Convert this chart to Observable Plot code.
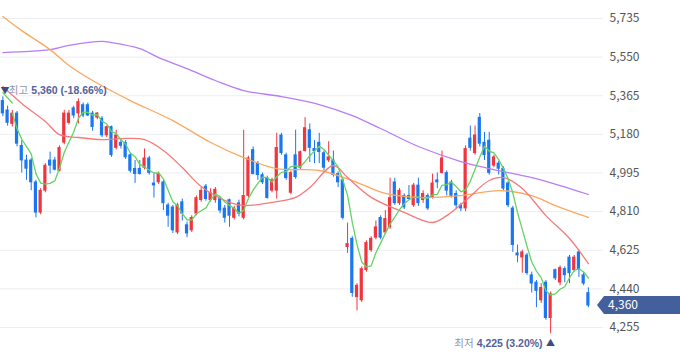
<!DOCTYPE html>
<html><head><meta charset="utf-8">
<script src="https://cdn.jsdelivr.net/npm/d3@7"></script>
<script src="https://cdn.jsdelivr.net/npm/@observablehq/plot@0.6"></script>
<style>
html,body{margin:0;padding:0;background:#fff;}
#chart{width:680px;height:358px;overflow:hidden;}
</style></head><body><div id="chart"></div>
<script>
// Daily candles (oldest → newest)
const opens = [5340,5295,5230,5280,5125,5055,5055,4950,4805,4910, 5055,5055,5005,5140,5235,5305,5280,5320,5320,5280,
 5260,5255,5175,5215,5115,5140,5140,5080,5015,5015, 5020,5065,4945,4950,4950,4840,4830,4710,4855,4745,
 4720,4800,4865,4930,4865,4865,4870,4825,4865,4780, 4850,4780,4885,5105,5040,4985,4970,4910,4910,5175,
 5080,4900,5080,5020,5100,5200,5110,5140,5090,5055, 5055,4990,4960,4640,4680,4400,4385,4530,4625,4685,
 4780,4710,4735,4950,4850,4885,4885,4840,4935,4865, 4885,4875,4960,4995,4995,4950,4895,4840,4825,5160,
 5090,5260,5140,5150,5030,5040,5015,4945,4825,4610, 4590,4600,4505,4470,4385,4470,4300,4530,4470,4535,
 4590,4530,4615,4505,4420];
const closes = [5280,5235,5280,5135,5055,5015,4950,4805,4910,5030, 5030,5010,5115,5280,5280,5270,5335,5270,5270,5215,
 5280,5175,5215,5080,5175,5125,5070,5005,4990,4990, 5065,4995,4935,4990,4850,4790,4720,4840,4800,4705,
 4780,4875,4910,4870,4900,4915,4815,4780,4790,4825, 4800,4885,5065,4990,4985,4950,4875,4960,5115,5090,
 4970,4995,4975,5095,5210,5115,5100,5095,5020,5070, 4985,4950,4780,4655,4420,4455,4535,4660,4680,4735,
 4685,4775,4875,4850,4910,4830,4870,4935,4850,4895, 4825,4945,4950,5065,4910,4885,4840,4825,5110,5115,
 5175,5135,5080,4995,5070,5015,4920,4840,4650,4600, 4615,4515,4465,4430,4445,4300,4415,4490,4540,4505,
 4515,4590,4530,4465,4360];
const highs = [5360,5315,5295,5290,5150,5080,5065,4960,4920,5040, 5095,5070,5125,5295,5295,5315,5350,5330,5330,5290,
 5285,5265,5220,5220,5200,5155,5150,5090,5055,5055, 5110,5075,4990,5000,4960,4850,4840,4850,4870,4760,
 4790,4885,4925,4940,4920,4925,4880,4840,4870,4835, 4865,5200,5075,5120,5050,4995,4980,4970,5185,5185,
 5090,5005,5200,5100,5260,5230,5150,5185,5100,5145, 5100,5000,4970,4755,4690,4465,4545,4670,4690,4765,
 4790,4815,4970,4970,4920,4895,4935,4945,4970,4910, 4895,4990,4995,5100,5005,4960,4910,4850,5125,5220,
 5220,5280,5190,5190,5080,5050,5025,4955,4835,4650, 4625,4610,4520,4480,4465,4480,4425,4535,4550,4545,
 4600,4600,4625,4520,4445];
const lows = [5265,5220,5215,5120,4995,4960,4910,4780,4795,4900, 4990,5005,5000,5130,5225,5255,5230,5260,5265,5195,
 5250,5165,5165,5070,5105,5110,5060,4995,4945,4985, 5010,4985,4875,4940,4815,4735,4705,4700,4765,4685,
 4710,4790,4855,4860,4855,4850,4800,4755,4735,4770, 4785,4770,4875,4985,4960,4940,4870,4900,4870,5080,
 4960,4890,4965,5010,5095,5045,5040,5040,5005,5045, 4975,4925,4770,4610,4400,4335,4375,4520,4615,4675,
 4675,4700,4725,4840,4840,4820,4865,4830,4835,4850, 4815,4870,4920,4990,4885,4875,4825,4810,4810,5100,
 5080,5120,5055,4985,5020,4985,4910,4830,4615,4565, 4515,4505,4420,4350,4370,4290,4225,4480,4455,4470,
 4465,4520,4495,4455,4350];

// Moving averages (candle index → value)
const ma5Idx = [0,2];
const ma5Val = [5380,5330];
const ma20Idx = [0,4,9,12,16,21,25,30,34,38,42,48,51,57,62,65,70,73,78,85,91,94,98,103,106,110,115,120,124];
const ma20Val = [5409,5328,5242,5179,5165,5155,5160,5155,5103,5021,4930,4854,4839,4854,4878,4925,5031,4973,4878,4806,4758,4791,4863,4959,4973,4921,4791,4681,4561];
const ma60Idx = [0,4,10,14,19,27,36,44,51,58,67,74,81,88,97,105,112,117,124];
const ma60Val = [5745,5677,5586,5510,5438,5342,5246,5141,5069,5016,5007,4959,4897,4878,4887,4911,4887,4839,4782];
const ma120Idx = [0,10,14,21,23,29,33,39,45,51,59,67,74,80,88,97,103,112,118,124];
const ma120Val = [5572,5586,5606,5625,5620,5591,5548,5495,5438,5390,5361,5323,5270,5208,5122,5050,5016,4973,4935,4892];

const yTicks = [4255,4440,4625,4810,4995,5180,5365,5550,5735];
const highText = ["최고", "5,360 (-18.66%)"];
const lowText = ["최저", "4,225 (3.20%)"];

const UP = "#f0353f", DOWN = "#1a77f2";
const data = opens.map((o, i) => ({i, o, c: closes[i], h: highs[i], l: lows[i]}));
const col = d => d.c >= d.o ? UP : DOWN;
const toLine = (idx, val) => idx.map((x, k) => ({i: x, v: val[k]}));
const hiI = highs.indexOf(d3.max(highs)), loI = lows.indexOf(d3.min(lows));
const hiPt = [{i: hiI, v: highs[hiI]}], loPt = [{i: loI, v: lows[loI]}];
const lastClose = closes[closes.length - 1];
const font = "'Noto Sans CJK KR','Noto Sans',sans-serif";
const numFont = "'Liberation Sans','Noto Sans CJK KR',sans-serif";

const chart = Plot.plot({
  width: 680, height: 358,
  marginLeft: 0, marginRight: 77, marginTop: 0, marginBottom: 0,
  style: {fontFamily: font, fontSize: "12px", background: "#fff", overflow: "visible"},
  x: {domain: [-0.5, 127.2], axis: null},
  y: {domain: [4106.5, 5821.2], axis: null},
  color: {type: "identity"},
  marks: [
    Plot.gridY(yTicks, {stroke: "#eceef3", strokeOpacity: 1}),
    Plot.axisY(yTicks, {anchor: "right", tickSize: 0, tickPadding: 6, tickFormat: d3.format(","), fontSize: 12, color: "#555", fontFamily: font}),
    Plot.ruleX(data, {x: "i", y1: "l", y2: "h", stroke: col, strokeWidth: 1}),
    Plot.rect(data, {x1: d => d.i - 0.34, x2: d => d.i + 0.34, y1: d => Math.min(d.o, d.c), y2: d => Math.max(d.o, d.c), fill: col, insetTop: -0.4, insetBottom: -0.4}),
    Plot.line(toLine(ma120Idx, ma120Val), {x: "i", y: "v", stroke: "#b87df6", strokeWidth: 1.3, curve: "catmull-rom"}),
    Plot.line(toLine(ma60Idx, ma60Val), {x: "i", y: "v", stroke: "#fba860", strokeWidth: 1.3, curve: "catmull-rom"}),
    Plot.line(toLine(ma20Idx, ma20Val), {x: "i", y: "v", stroke: "#f77a7a", strokeWidth: 1.3, curve: "catmull-rom"}),
    Plot.line(toLine(ma5Idx, ma5Val), {x: "i", y: "v", stroke: "#62d466", strokeWidth: 1.3}),
    Plot.lineY(data.slice(2), Plot.windowY({k: 5, anchor: "end", reduce: "mean"}, {x: "i", y: "c", stroke: "#62d466", strokeWidth: 1.3})),
    // high label
    Plot.text(hiPt, {x: "i", y: "v", text: () => "▼", dy: -6, dx: -2.4, fontSize: 9, fill: "#3f4c7e", textAnchor: "start"}),
    Plot.text(hiPt, {x: "i", y: "v", text: () => highText[0], dy: -6, dx: 6, fontSize: 10.5, fill: "#8d95ad", textAnchor: "start"}),
    Plot.text(hiPt, {x: "i", y: "v", text: () => highText[1], dy: -6, dx: 28.5, fontSize: 10.5, fontWeight: "bold", fill: "#52629a", textAnchor: "start", fontFamily: numFont}),
    // low label
    Plot.text(loPt, {x: "i", y: "v", text: () => "▲", dy: 9, fontSize: 9, fill: "#3f4c7e", textAnchor: "middle"}),
    Plot.text(loPt, {x: "i", y: "v", text: () => lowText[1], dy: 10, dx: -8, fontSize: 10.5, fontWeight: "bold", fill: "#52629a", textAnchor: "end", fontFamily: numFont}),
    Plot.text(loPt, {x: "i", y: "v", text: () => lowText[0], dy: 10, dx: -77, fontSize: 10.5, fill: "#8d95ad", textAnchor: "end"})
  ]
});

// current-price tag on the right axis
const ty = chart.scale("y").apply(lastClose);
const g = d3.select(chart).append("g");
g.append("path")
  .attr("d", `M597,${ty} L604,${ty - 9} L680,${ty - 9} L680,${ty + 9} L604,${ty + 9} Z`)
  .attr("fill", "#44609c");
g.append("text").attr("x", 608).attr("y", ty).attr("dy", "0.35em")
  .attr("text-anchor", "start")
  .attr("fill", "#fff").attr("font-size", 12).attr("font-family", font)
  .text(d3.format(",")(lastClose));

document.getElementById("chart").appendChild(chart);
</script>
</body></html>
